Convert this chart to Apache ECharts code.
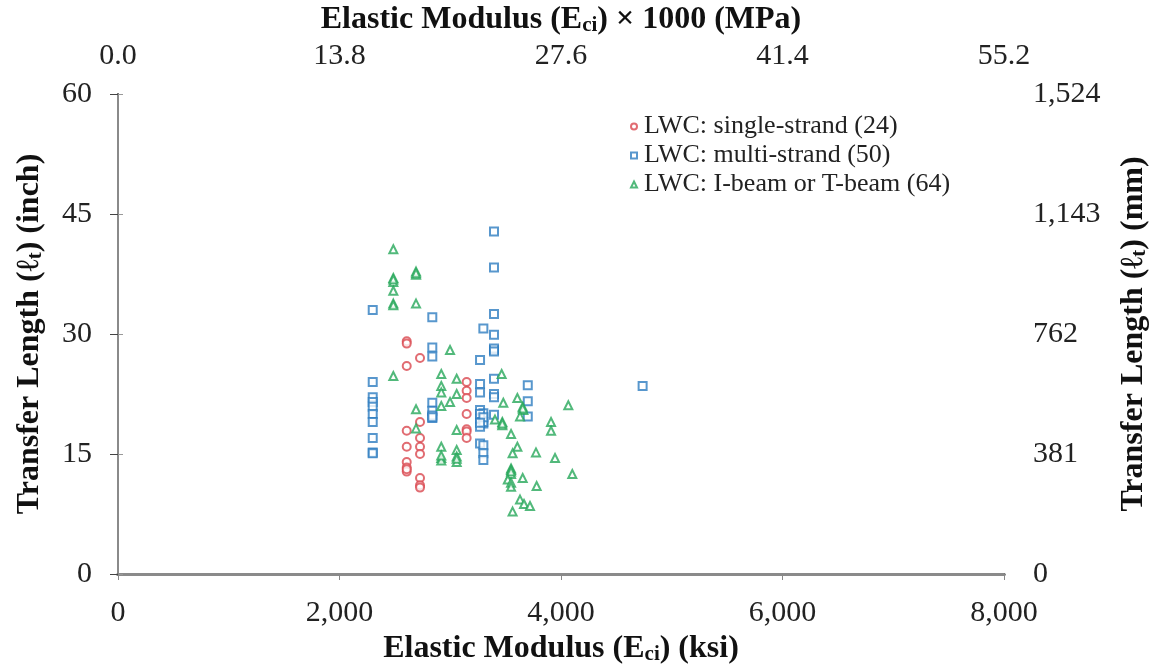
<!DOCTYPE html>
<html>
<head>
<meta charset="utf-8">
<script src="https://cdn.jsdelivr.net/npm/echarts@6/dist/echarts.min.js"></script>
<style>
  html, body { margin: 0; padding: 0; background: #ffffff; }
  #chart { width: 1152px; height: 667px; }
</style>
</head>
<body>
<div id="chart"></div>
<script>
// Transfer length vs. elastic modulus at release, lightweight concrete specimens
// Each point: [Eci (ksi), transfer length (inch)]
const singleStrand = [
  [2607, 29.1], [2607, 28.8], [2727, 27.0], [2607, 26.0], [2727, 19.0],
  [2607, 17.9], [2727, 17.0], [2607, 15.9], [2727, 15.9], [2727, 15.0],
  [2607, 14.0], [2607, 13.3], [2607, 12.8], [2607, 13.1], [2727, 12.0],
  [2727, 11.1], [2727, 10.8], [3148, 24.0], [3148, 22.9], [3148, 22.0],
  [3148, 20.0], [3148, 18.1], [3148, 17.8], [3148, 17.0]
];

const multiStrand = [
  [2300, 33.0], [2300, 24.0], [2300, 22.1], [2300, 21.5], [2300, 20.9],
  [2300, 20.0], [2300, 19.0], [2300, 17.0], [2300, 15.2], [2300, 15.1],
  [2838, 32.1], [2838, 28.3], [2838, 27.2], [2838, 21.4], [2838, 20.4],
  [2838, 19.5], [2838, 19.8], [3395, 42.8], [3395, 38.3], [3395, 32.5],
  [3299, 30.7], [3395, 29.9], [3395, 28.0], [3395, 28.2], [3269, 26.75],
  [3395, 24.4], [3269, 23.75], [3269, 22.7], [3395, 22.5], [3395, 22.1],
  [3700, 23.6], [3700, 21.6], [3700, 19.7], [3395, 19.9], [3269, 20.5],
  [3299, 20.1], [3269, 19.4], [3299, 18.8], [3269, 18.4], [3269, 16.3],
  [3299, 16.1], [3299, 15.1], [3299, 14.25], [4737, 23.5], [3299, 19.0],
  [3269, 20.0], [3299, 19.6], [3269, 18.9], [3395, 27.8], [2838, 19.6]
];

const beams = [
  [2486, 40.6], [2486, 36.5], [2486, 37.0], [2486, 36.8], [2691, 37.4],
  [2691, 37.8], [2691, 37.6], [2486, 35.4], [2486, 33.8], [2486, 33.6],
  [2691, 33.8], [2998, 28.0], [2486, 24.75], [2919, 25.0], [3058, 24.4],
  [2919, 23.5], [2919, 22.7], [3058, 22.5], [2998, 21.5], [2919, 21.0],
  [2691, 20.6], [2691, 18.2], [3058, 18.0], [2919, 15.9], [2919, 14.5],
  [2919, 14.2], [2919, 14.8], [3058, 15.5], [3058, 14.7], [3058, 14.0],
  [3058, 14.4], [3464, 25.0], [3479, 21.4], [3606, 22.0], [3654, 20.9],
  [3660, 20.5], [3654, 20.7], [3630, 19.7], [3404, 19.3], [3470, 19.0],
  [3470, 18.6], [3470, 18.8], [3549, 17.5], [3606, 15.9], [3563, 15.1],
  [3774, 15.2], [3910, 19.0], [3910, 17.9], [4066, 21.1], [3946, 14.5],
  [4102, 12.5], [3549, 13.2], [3549, 13.0], [3549, 12.5], [3549, 12.8],
  [3520, 11.8], [3549, 11.4], [3549, 10.9], [3654, 12.0], [3780, 11.0],
  [3630, 9.3], [3666, 8.75], [3720, 8.5], [3563, 7.8]
];

// Secondary-axis tick labels (SI units)
const topTickLabels = ['0.0', '13.8', '27.6', '41.4', '55.2'];
const rightTickLabels = ['0', '381', '762', '1,143', '1,524'];
const seriesNames = [
  'LWC: single-strand (24)',
  'LWC: multi-strand (50)',
  'LWC: I-beam or T-beam (64)'
];

const SERIF = '"Liberation Serif", "Times New Roman", serif';
const RED = '#d9474f';
const BLUE = '#2e7dc0';
const GREEN = '#27a85a';
const TICK_FONT = 30;

const titleRich = {
  b: { fontFamily: SERIF, fontWeight: 'bold', fontSize: 32, color: '#111' },
  sub: { fontFamily: SERIF, fontWeight: 'bold', fontSize: 21, color: '#111', padding: [12, 0, 0, 0] }
};

const chart = echarts.init(document.getElementById('chart'));
chart.setOption({
  backgroundColor: '#ffffff',
  animation: false,
  grid: { left: 118, right: 148, top: 94, bottom: 93, containLabel: false, outerBoundsMode: 'none' },
  legend: {
    orient: 'vertical',
    left: 625,
    top: 107,
    itemWidth: 6,
    itemHeight: 6,
    itemGap: 0,
    textStyle: { fontFamily: SERIF, fontSize: 26, lineHeight: 29, color: '#222', padding: [0, 0, 0, 2] },
    data: [
      { name: seriesNames[0], icon: 'emptyCircle' },
      { name: seriesNames[1], icon: 'emptyRect' },
      { name: seriesNames[2], icon: 'emptyTriangle' }
    ]
  },
  xAxis: [
    {
      type: 'value', position: 'bottom', min: 0, max: 8000, interval: 2000,
      name: '{b|Elastic Modulus (E}{sub|ci}{b|) (ksi)}',
      nameLocation: 'middle', nameGap: 58,
      nameTextStyle: { rich: titleRich },
      axisLine: { show: true, lineStyle: { color: '#111', width: 3 } },
      axisTick: { show: true, inside: false, length: 6, lineStyle: { color: '#444', width: 1 } },
      axisLabel: {
        margin: 24, fontFamily: SERIF, fontSize: TICK_FONT, color: '#222',
        formatter: v => v.toLocaleString('en-US')
      },
      splitLine: { show: false }
    },
    {
      type: 'value', position: 'top', min: 0, max: 8000, interval: 2000,
      name: '{b|Elastic Modulus (E}{sub|ci}{b|) × 1000 (MPa)}',
      nameLocation: 'middle', nameGap: 54,
      nameTextStyle: { rich: titleRich },
      axisLine: { show: true, lineStyle: { color: '#8a8a8a', width: 3 } },
      axisTick: { show: true, inside: true, length: 6, lineStyle: { color: '#888', width: 1 } },
      axisLabel: {
        margin: 23, fontFamily: SERIF, fontSize: TICK_FONT, color: '#222',
        formatter: v => topTickLabels[Math.round(v / 2000)]
      },
      splitLine: { show: false }
    }
  ],
  yAxis: [
    {
      type: 'value', position: 'left', min: 0, max: 60, interval: 15,
      name: '{b|Transfer Length (ℓ}{sub|t}{b|) (inch)}',
      nameLocation: 'middle', nameGap: 72, nameRotate: 90,
      nameTextStyle: { rich: titleRich },
      axisLine: { show: true, lineStyle: { color: '#111', width: 2 } },
      axisTick: { show: true, inside: false, length: 8, lineStyle: { color: '#444', width: 1 } },
      axisLabel: { margin: 26, fontFamily: SERIF, fontSize: TICK_FONT, color: '#222' },
      splitLine: { show: false }
    },
    {
      type: 'value', position: 'right', min: 0, max: 60, interval: 15,
      name: '{b|Transfer Length (ℓ}{sub|t}{b|) (mm)}',
      nameLocation: 'middle', nameGap: 113, nameRotate: 90,
      nameTextStyle: { rich: titleRich },
      axisLine: { show: true, lineStyle: { color: '#8a8a8a', width: 2 } },
      axisTick: { show: true, inside: false, length: 5, lineStyle: { color: '#999', width: 1 } },
      axisLabel: {
        margin: 29, fontFamily: SERIF, fontSize: TICK_FONT, color: '#222',
        formatter: v => rightTickLabels[Math.round(v / 15)]
      },
      splitLine: { show: false }
    }
  ],
  series: [
    {
      name: seriesNames[0], type: 'scatter', data: singleStrand,
      symbol: 'emptyCircle', symbolSize: 8,
      itemStyle: { color: RED, borderColor: RED, borderWidth: 1.8 }
    },
    {
      name: seriesNames[1], type: 'scatter', data: multiStrand,
      symbol: 'emptyRect', symbolSize: 8,
      itemStyle: { color: BLUE, borderColor: BLUE, borderWidth: 1.8 }
    },
    {
      name: seriesNames[2], type: 'scatter', data: beams,
      symbol: 'emptyTriangle', symbolSize: 8,
      itemStyle: { color: GREEN, borderColor: GREEN, borderWidth: 1.8 }
    }
  ]
});
</script>
</body>
</html>
